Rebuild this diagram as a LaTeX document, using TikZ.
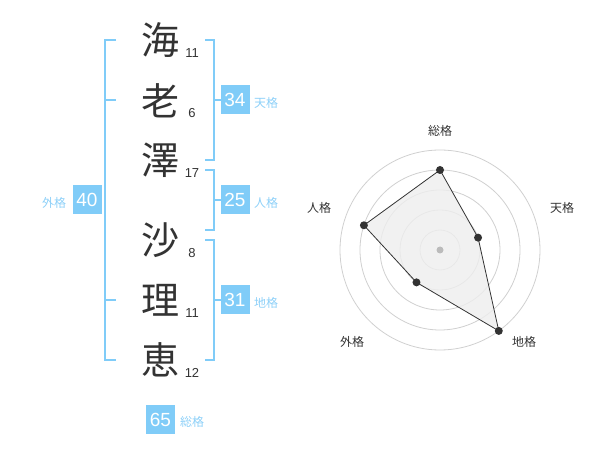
\documentclass[tikz,border=0pt]{standalone}
\usepackage{fontspec}
\setmainfont{Liberation Sans}
\newfontfamily\jp{Noto Sans CJK JP}
\definecolor{skyb}{HTML}{80CCF8}
\definecolor{skyt}{HTML}{8DD0F8}
\definecolor{ink}{HTML}{333333}
\definecolor{ring}{HTML}{D0D0D0}
\definecolor{hub}{HTML}{BBBBBB}
\definecolor{polyfill}{HTML}{EEEEEE}
\tikzset{
  kanji/.style={font=\jp\fontsize{38}{38}\selectfont, text=ink, inner sep=0pt},
  strokes/.style={font=\fontsize{13}{13}\selectfont, text=ink, inner sep=0pt},
  valbox/.style={fill=skyb, text=white, minimum size=29pt, inner sep=0pt, font=\fontsize{19}{19}\selectfont},
  kaku/.style={font=\jp\fontsize{12}{12}\selectfont, text=skyt, inner sep=0pt},
  bracket/.style={draw=skyb, line width=2pt},
  axislabel/.style={font=\jp\fontsize{12}{12}\selectfont, text=ink, inner sep=0pt},
  ringline/.style={draw=ring, line width=0.8pt},
  dot/.style={circle, fill=ink, inner sep=0pt, minimum size=8pt},
}
\begin{document}
\begin{tikzpicture}[x=1pt,y=-1pt]
\useasboundingbox (0,0) rectangle (600,470);
% characters
\node[kanji] (c1) at (160,40) {海};
\node[kanji] (c2) at (160,101) {老};
\node[kanji] (c3) at (160,160) {澤};
\node[kanji] (c4) at (160,240) {沙};
\node[kanji] (c5) at (160,300) {理};
\node[kanji] (c6) at (160,360) {恵};
\node[strokes] (n1) at (192,53) {11};
\node[strokes] (n2) at (192,113) {6};
\node[strokes] (n3) at (192,173) {17};
\node[strokes] (n4) at (192,253) {8};
\node[strokes] (n5) at (192,313) {11};
\node[strokes] (n6) at (192,373) {12};
% brackets
\draw[bracket] (116,40) -- (105,40) -- (105,360) -- (116,360);
\draw[bracket] (105,100) -- (116,100);
\draw[bracket] (105,300) -- (116,300);
\draw[bracket] (205,40) -- (214,40) -- (214,160) -- (205,160);
\draw[bracket] (214,100) -- (221,100);
\draw[bracket] (205,170) -- (214,170) -- (214,230) -- (205,230);
\draw[bracket] (214,200) -- (221,200);
\draw[bracket] (205,240) -- (214,240) -- (214,360) -- (205,360);
\draw[bracket] (214,300) -- (221,300);
% value boxes
\node[valbox] (ten) at (235,100) {34};
\node[kaku] (tenl) at (266,103) {天格};
\node[valbox] (jin) at (235,200) {25};
\node[kaku] (jinl) at (266,203) {人格};
\node[valbox] (chi) at (235,300) {31};
\node[kaku] (chil) at (266,303) {地格};
\node[valbox] (gai) at (87,200) {40};
\node[kaku] (gail) at (54,203) {外格};
\node[valbox] (sou) at (160.5,419.5) {65};
\node[kaku] (soul) at (192,422) {総格};
% radar chart
\begin{scope}[shift={(440,250)}, yscale=-1]
  \foreach \r in {20,40,60,80,100} \draw[ringline] (0,0) circle (\r);
  \coordinate (ps) at (90:80);
  \coordinate (pt) at (18:40);
  \coordinate (pc) at (-54:100);
  \coordinate (pg) at (-126:40);
  \coordinate (pj) at (162:80);
  \fill[polyfill, fill opacity=0.8] (ps) -- (pt) -- (pc) -- (pg) -- (pj) -- cycle;
  \fill[hub] (0,0) circle (3.5);
  \draw[draw=ink, line width=0.8pt] (ps) -- (pt) -- (pc) -- (pg) -- (pj) -- cycle;
  \foreach \p in {ps,pt,pc,pg,pj} \node[dot] at (\p) {};
\end{scope}
\node[axislabel] (ls) at (440,131) {総格};
\node[axislabel] (lt) at (562,208) {天格};
\node[axislabel] (lj) at (319,208) {人格};
\node[axislabel] (lg) at (352,342) {外格};
\node[axislabel] (lc) at (524,342) {地格};
\end{tikzpicture}
\end{document}
